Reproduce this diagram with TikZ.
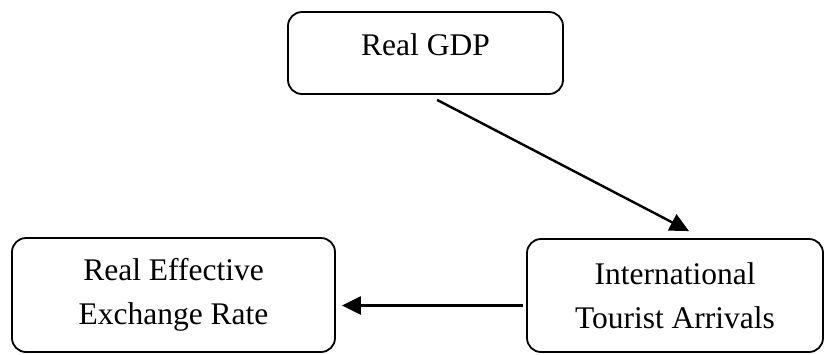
\documentclass[tikz,border=0pt]{standalone}
\usepackage{fontspec}
\setmainfont{Liberation Serif}
\usetikzlibrary{calc,arrows.meta}
\begin{document}
\begin{tikzpicture}[x=1pt,y=-1pt,
  box/.style={draw=black,line width=1.8pt,rounded corners=14pt,inner sep=0pt,align=center,
    font=\fontsize{31.5}{44}\selectfont},
  conn/.style={line width=2.4pt,-{Triangle[length=19pt,width=18pt]}}]
\useasboundingbox (0,0) rectangle (824,354);
\node[box,minimum width=275pt,text height=43pt,text depth=39pt] (gdp) at (425.5,53) {Real GDP};
\node[box,minimum width=323pt,minimum height=114pt] (reer) at (173.5,295) {Real Effective\\Exchange Rate};
\node[box,minimum width=296pt,minimum height=113pt] (ita) at (675,295.5) {International\\Tourist Arrivals};
\draw[conn] ($(gdp.south west)!0.542!(gdp.south east)+(0,5)$) -- ($(ita.north west)!0.547!(ita.north east)+(0,-7)$);
\coordinate (s2) at ($(ita.west)+(-3,10)$);
\draw[conn] (s2) -- ($(s2 -| reer.east)+(6,0)$);
\end{tikzpicture}
\end{document}
